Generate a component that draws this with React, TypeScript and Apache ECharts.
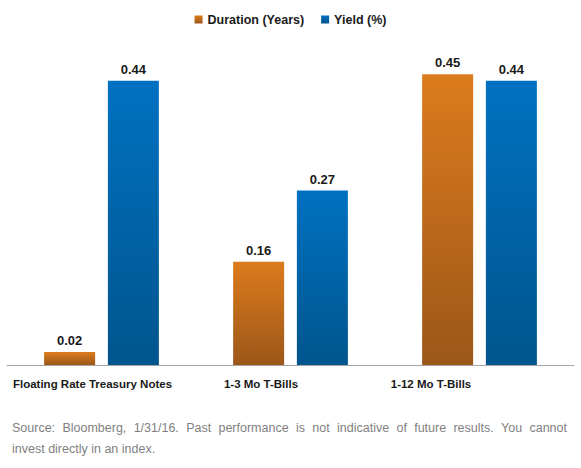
import React, { useEffect, useRef } from "react";
import * as echarts from "echarts";

const categories = ["Floating Rate Treasury Notes", "1-3 Mo T-Bills", "1-12 Mo T-Bills"];
const seriesNames = ["Duration (Years)", "Yield (%)"];
const durationYears = [0.02, 0.16, 0.45];
const yieldPct = [0.44, 0.27, 0.44];
const footnoteLines = [
  "Source: Bloomberg, 1/31/16. Past performance is not indicative of future results. You cannot",
  "invest directly in an index.",
];

// Category labels sit a little left of their bar groups (right padding in px).
const labelRightPad = [18, 59, 97];

const W = 581;
const H = 468;
const NOTE_FONT = '12.5px "Liberation Sans", Arial, sans-serif';
const NOTE_LEFT = 12;
const NOTE_RIGHT = 567;

function gradient(top: string, bottom: string) {
  return new echarts.graphic.LinearGradient(0, 0, 0, 1, [
    { offset: 0, color: top },
    { offset: 1, color: bottom },
  ]);
}

// Justify the first footnote line by spreading its words across the full width.
function footnoteGraphics() {
  const ctx = document.createElement("canvas").getContext("2d")!;
  ctx.font = NOTE_FONT;
  const style = {
    fill: "#7f7f7f",
    font: NOTE_FONT,
    verticalAlign: "middle" as const,
  };
  const words = footnoteLines[0].split(" ");
  const widths = words.map((w) => ctx.measureText(w).width);
  const total = widths.reduce((a, b) => a + b, 0);
  const gap = (NOTE_RIGHT - NOTE_LEFT - total) / (words.length - 1);
  const items: any[] = [];
  let x = NOTE_LEFT;
  words.forEach((w, i) => {
    items.push({ type: "text", x, y: 428, style: { ...style, text: w } });
    x += widths[i] + gap;
  });
  items.push({ type: "text", x: NOTE_LEFT, y: 449, style: { ...style, text: footnoteLines[1] } });
  return items;
}

export default function App() {
  const ref = useRef<HTMLDivElement>(null);

  useEffect(() => {
    if (!ref.current) return;
    const chart = echarts.init(ref.current, null, { renderer: "svg" });
    const valueLabel = {
      show: true,
      position: "top",
      distance: 5,
      color: "#1a1a1a",
      fontWeight: "bold",
      fontSize: 13,
      fontFamily: '"Liberation Sans", Arial, sans-serif',
      formatter: (p: any) => p.value.toFixed(2),
    };
    chart.setOption({
      animation: false,
      backgroundColor: "#ffffff",
      legend: {
        top: 8,
        left: "center",
        icon: "rect",
        itemWidth: 8,
        itemHeight: 8,
        itemGap: 17,
        textStyle: {
          color: "#1a1a1a",
          fontWeight: "bold",
          fontSize: 12.5,
          fontFamily: '"Liberation Sans", Arial, sans-serif',
        },
        data: seriesNames,
      },
      grid: { left: 7, right: 7, top: 42, bottom: 103, containLabel: false },
      xAxis: {
        type: "category",
        data: categories.map((c, i) => ({
          value: c,
          textStyle: { padding: [0, labelRightPad[i], 0, 0] },
        })),
        axisTick: { show: false },
        axisLine: { lineStyle: { color: "#a6a6a6", width: 1 } },
        axisLabel: {
          interval: 0,
          margin: 13,
          color: "#1a1a1a",
          fontWeight: "bold",
          fontSize: 11.5,
          fontFamily: '"Liberation Sans", Arial, sans-serif',
        },
      },
      yAxis: { type: "value", min: 0, max: 0.5, show: false, splitLine: { show: false } },
      series: [
        {
          name: seriesNames[0],
          type: "bar",
          data: durationYears,
          barWidth: 51,
          barGap: "25%",
          itemStyle: { color: gradient("#dc7b1d", "#9c5719") },
          label: valueLabel,
        },
        {
          name: seriesNames[1],
          type: "bar",
          data: yieldPct,
          barWidth: 51,
          barGap: "25%",
          itemStyle: { color: gradient("#0071c1", "#00558d") },
          label: valueLabel,
        },
      ],
      color: ["#cc7020", "#0068b0"],
      graphic: footnoteGraphics(),
    });
    return () => chart.dispose();
  }, []);

  return (
    <div
      ref={ref}
      style={{ position: "absolute", left: 0, top: 0, width: W, height: H }}
    />
  );
}
